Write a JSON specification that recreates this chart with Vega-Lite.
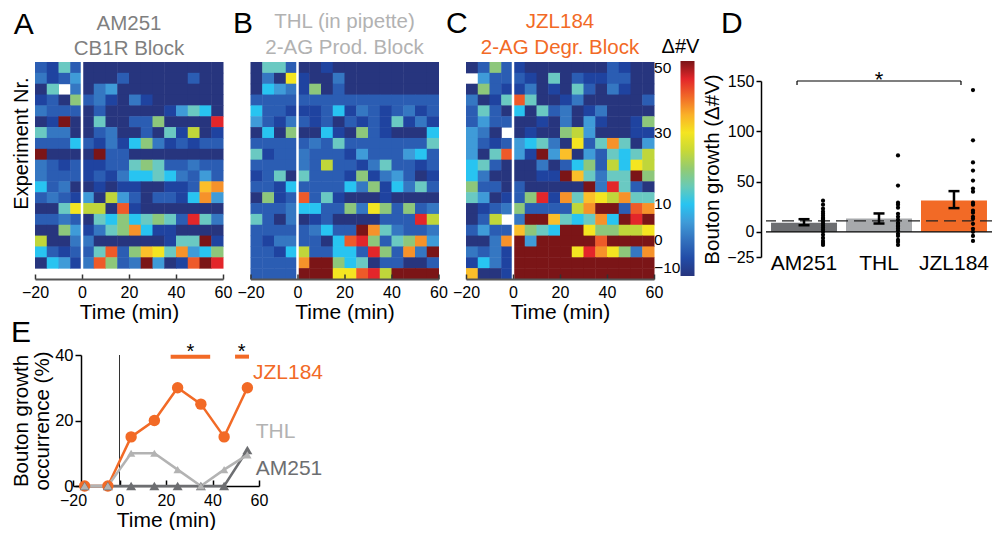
{
"$schema": "https://vega.github.io/schema/vega-lite/v6.json",
"background": "white",
"padding": {"left": 10, "top": 9, "right": 0, "bottom": 0},
"config": {
  "font": "Liberation Sans",
  "view": {"stroke": null},
  "axis": {"labelFont": "Liberation Sans", "titleFont": "Liberation Sans", "labelColor": "black", "titleColor": "black", "titleFontWeight": "normal", "domainColor": "black", "tickColor": "black", "grid": false},
  "legend": {"labelFont": "Liberation Sans", "titleFont": "Liberation Sans", "labelColor": "black", "titleColor": "black"},
  "title": {"font": "Liberation Sans", "fontWeight": "normal", "color": "black"},
  "text": {"font": "Liberation Sans"},
  "rect": {"binSpacing": 0}
},
"datasets": {
"hA": [
{"r":0,"t":-20,"v":-3},{"r":0,"t":-15,"v":-6},{"r":0,"t":-10,"v":14},{"r":0,"t":-5,"v":-3},{"r":0,"t":0,"v":-10},{"r":0,"t":5,"v":-10},{"r":0,"t":10,"v":-10},{"r":0,"t":15,"v":-10},{"r":0,"t":20,"v":-10},{"r":0,"t":25,"v":-10},{"r":0,"t":30,"v":-10},{"r":0,"t":35,"v":-10},{"r":0,"t":40,"v":-10},{"r":0,"t":45,"v":-10},{"r":0,"t":50,"v":-10},{"r":0,"t":55,"v":-10},
{"r":1,"t":-20,"v":1},{"r":1,"t":-15,"v":-6},{"r":1,"t":-10,"v":-3},{"r":1,"t":-5,"v":5},{"r":1,"t":0,"v":-10},{"r":1,"t":5,"v":-10},{"r":1,"t":10,"v":-10},{"r":1,"t":15,"v":-3},{"r":1,"t":20,"v":-10},{"r":1,"t":25,"v":-10},{"r":1,"t":30,"v":-10},{"r":1,"t":35,"v":-10},{"r":1,"t":40,"v":-10},{"r":1,"t":45,"v":-3},{"r":1,"t":50,"v":-10},{"r":1,"t":55,"v":-10},
{"r":2,"t":-20,"v":-10},{"r":2,"t":-15,"v":14},{"r":2,"t":-5,"v":1},{"r":2,"t":0,"v":-10},{"r":2,"t":5,"v":1},{"r":2,"t":10,"v":5},{"r":2,"t":15,"v":-10},{"r":2,"t":20,"v":-10},{"r":2,"t":25,"v":-10},{"r":2,"t":30,"v":-10},{"r":2,"t":35,"v":-10},{"r":2,"t":40,"v":-10},{"r":2,"t":45,"v":-10},{"r":2,"t":50,"v":-10},{"r":2,"t":55,"v":-10},
{"r":3,"t":-20,"v":-6},{"r":3,"t":-15,"v":-3},{"r":3,"t":-10,"v":-10},{"r":3,"t":-5,"v":19},{"r":3,"t":0,"v":-3},{"r":3,"t":5,"v":1},{"r":3,"t":10,"v":-6},{"r":3,"t":15,"v":-10},{"r":3,"t":20,"v":1},{"r":3,"t":25,"v":-6},{"r":3,"t":30,"v":-10},{"r":3,"t":35,"v":-10},{"r":3,"t":40,"v":-10},{"r":3,"t":45,"v":-10},{"r":3,"t":50,"v":-10},{"r":3,"t":55,"v":-10},
{"r":4,"t":-20,"v":1},{"r":4,"t":-15,"v":-3},{"r":4,"t":-10,"v":-3},{"r":4,"t":-5,"v":-3},{"r":4,"t":0,"v":-10},{"r":4,"t":5,"v":-3},{"r":4,"t":10,"v":-10},{"r":4,"t":15,"v":-10},{"r":4,"t":20,"v":-10},{"r":4,"t":25,"v":-10},{"r":4,"t":30,"v":-10},{"r":4,"t":35,"v":-6},{"r":4,"t":40,"v":5},{"r":4,"t":45,"v":14},{"r":4,"t":50,"v":10},{"r":4,"t":55,"v":-10},
{"r":5,"t":-20,"v":-10},{"r":5,"t":-15,"v":-6},{"r":5,"t":-10,"v":50},{"r":5,"t":-5,"v":-10},{"r":5,"t":0,"v":-10},{"r":5,"t":5,"v":14},{"r":5,"t":10,"v":-10},{"r":5,"t":15,"v":-10},{"r":5,"t":20,"v":-3},{"r":5,"t":25,"v":-3},{"r":5,"t":30,"v":19},{"r":5,"t":35,"v":-10},{"r":5,"t":40,"v":-10},{"r":5,"t":45,"v":-10},{"r":5,"t":50,"v":-10},{"r":5,"t":55,"v":45},
{"r":6,"t":-20,"v":14},{"r":6,"t":-15,"v":1},{"r":6,"t":-10,"v":1},{"r":6,"t":-5,"v":-10},{"r":6,"t":0,"v":-10},{"r":6,"t":5,"v":-3},{"r":6,"t":10,"v":1},{"r":6,"t":15,"v":-10},{"r":6,"t":20,"v":-10},{"r":6,"t":25,"v":-3},{"r":6,"t":30,"v":-10},{"r":6,"t":35,"v":14},{"r":6,"t":40,"v":-6},{"r":6,"t":45,"v":24},{"r":6,"t":50,"v":-10},{"r":6,"t":55,"v":-6},
{"r":7,"t":-20,"v":-3},{"r":7,"t":-15,"v":-3},{"r":7,"t":-10,"v":-3},{"r":7,"t":-5,"v":10},{"r":7,"t":0,"v":-3},{"r":7,"t":5,"v":-6},{"r":7,"t":10,"v":1},{"r":7,"t":15,"v":-6},{"r":7,"t":20,"v":10},{"r":7,"t":25,"v":19},{"r":7,"t":30,"v":1},{"r":7,"t":35,"v":-6},{"r":7,"t":40,"v":-3},{"r":7,"t":45,"v":-6},{"r":7,"t":50,"v":-3},{"r":7,"t":55,"v":-3},
{"r":8,"t":-20,"v":50},{"r":8,"t":-15,"v":-10},{"r":8,"t":-10,"v":-10},{"r":8,"t":-5,"v":-10},{"r":8,"t":0,"v":-10},{"r":8,"t":5,"v":50},{"r":8,"t":10,"v":-3},{"r":8,"t":15,"v":-3},{"r":8,"t":20,"v":-10},{"r":8,"t":25,"v":-10},{"r":8,"t":30,"v":-10},{"r":8,"t":35,"v":-10},{"r":8,"t":40,"v":-10},{"r":8,"t":45,"v":-10},{"r":8,"t":50,"v":-10},{"r":8,"t":55,"v":-10},
{"r":9,"t":-20,"v":1},{"r":9,"t":-15,"v":-3},{"r":9,"t":-10,"v":-6},{"r":9,"t":-5,"v":-3},{"r":9,"t":0,"v":-6},{"r":9,"t":5,"v":-6},{"r":9,"t":10,"v":-3},{"r":9,"t":15,"v":-3},{"r":9,"t":20,"v":14},{"r":9,"t":25,"v":19},{"r":9,"t":30,"v":14},{"r":9,"t":35,"v":-3},{"r":9,"t":40,"v":-3},{"r":9,"t":45,"v":1},{"r":9,"t":50,"v":-3},{"r":9,"t":55,"v":-3},
{"r":10,"t":-20,"v":1},{"r":10,"t":-15,"v":-3},{"r":10,"t":-10,"v":-3},{"r":10,"t":-5,"v":-3},{"r":10,"t":0,"v":-6},{"r":10,"t":5,"v":-3},{"r":10,"t":10,"v":-6},{"r":10,"t":15,"v":1},{"r":10,"t":20,"v":10},{"r":10,"t":25,"v":10},{"r":10,"t":30,"v":14},{"r":10,"t":35,"v":10},{"r":10,"t":40,"v":1},{"r":10,"t":45,"v":-3},{"r":10,"t":50,"v":5},{"r":10,"t":55,"v":-3},
{"r":11,"t":-20,"v":10},{"r":11,"t":-15,"v":-3},{"r":11,"t":-10,"v":1},{"r":11,"t":-5,"v":-10},{"r":11,"t":0,"v":-10},{"r":11,"t":5,"v":-6},{"r":11,"t":10,"v":-10},{"r":11,"t":15,"v":-6},{"r":11,"t":20,"v":-6},{"r":11,"t":25,"v":-10},{"r":11,"t":30,"v":-10},{"r":11,"t":35,"v":-6},{"r":11,"t":40,"v":-6},{"r":11,"t":45,"v":-3},{"r":11,"t":50,"v":34},{"r":11,"t":55,"v":37},
{"r":12,"t":-20,"v":-3},{"r":12,"t":-15,"v":1},{"r":12,"t":-10,"v":-3},{"r":12,"t":-5,"v":-6},{"r":12,"t":0,"v":5},{"r":12,"t":5,"v":-10},{"r":12,"t":10,"v":24},{"r":12,"t":15,"v":5},{"r":12,"t":20,"v":-3},{"r":12,"t":25,"v":-10},{"r":12,"t":30,"v":-3},{"r":12,"t":35,"v":-3},{"r":12,"t":40,"v":-6},{"r":12,"t":45,"v":10},{"r":12,"t":50,"v":37},{"r":12,"t":55,"v":5},
{"r":13,"t":-20,"v":-10},{"r":13,"t":-15,"v":-10},{"r":13,"t":-10,"v":14},{"r":13,"t":-5,"v":30},{"r":13,"t":0,"v":24},{"r":13,"t":5,"v":24},{"r":13,"t":10,"v":-10},{"r":13,"t":15,"v":41},{"r":13,"t":20,"v":-6},{"r":13,"t":25,"v":-10},{"r":13,"t":30,"v":-10},{"r":13,"t":35,"v":-10},{"r":13,"t":40,"v":-10},{"r":13,"t":45,"v":-10},{"r":13,"t":50,"v":-10},{"r":13,"t":55,"v":-10},
{"r":14,"t":-20,"v":-3},{"r":14,"t":-15,"v":-3},{"r":14,"t":-10,"v":1},{"r":14,"t":-5,"v":-3},{"r":14,"t":0,"v":-10},{"r":14,"t":5,"v":14},{"r":14,"t":10,"v":10},{"r":14,"t":15,"v":19},{"r":14,"t":20,"v":10},{"r":14,"t":25,"v":14},{"r":14,"t":30,"v":19},{"r":14,"t":35,"v":14},{"r":14,"t":40,"v":-3},{"r":14,"t":45,"v":45},{"r":14,"t":50,"v":14},{"r":14,"t":55,"v":1},
{"r":15,"t":-20,"v":-10},{"r":15,"t":-15,"v":-10},{"r":15,"t":-10,"v":19},{"r":15,"t":-5,"v":5},{"r":15,"t":0,"v":-6},{"r":15,"t":5,"v":1},{"r":15,"t":10,"v":14},{"r":15,"t":15,"v":19},{"r":15,"t":20,"v":37},{"r":15,"t":25,"v":10},{"r":15,"t":30,"v":-6},{"r":15,"t":35,"v":-6},{"r":15,"t":40,"v":-10},{"r":15,"t":45,"v":-10},{"r":15,"t":50,"v":-10},{"r":15,"t":55,"v":-10},
{"r":16,"t":-20,"v":24},{"r":16,"t":-15,"v":-10},{"r":16,"t":-10,"v":-10},{"r":16,"t":-5,"v":1},{"r":16,"t":0,"v":1},{"r":16,"t":5,"v":-10},{"r":16,"t":10,"v":-10},{"r":16,"t":15,"v":-10},{"r":16,"t":20,"v":-10},{"r":16,"t":25,"v":-10},{"r":16,"t":30,"v":-10},{"r":16,"t":35,"v":-6},{"r":16,"t":40,"v":14},{"r":16,"t":45,"v":14},{"r":16,"t":50,"v":50},{"r":16,"t":55,"v":-6},
{"r":17,"t":-20,"v":10},{"r":17,"t":-15,"v":-3},{"r":17,"t":-10,"v":-6},{"r":17,"t":-5,"v":-3},{"r":17,"t":0,"v":-3},{"r":17,"t":5,"v":14},{"r":17,"t":10,"v":41},{"r":17,"t":15,"v":-3},{"r":17,"t":20,"v":19},{"r":17,"t":25,"v":34},{"r":17,"t":30,"v":30},{"r":17,"t":35,"v":14},{"r":17,"t":40,"v":37},{"r":17,"t":45,"v":5},{"r":17,"t":50,"v":10},{"r":17,"t":55,"v":19},
{"r":18,"t":-20,"v":-10},{"r":18,"t":-15,"v":10},{"r":18,"t":-10,"v":5},{"r":18,"t":-5,"v":-6},{"r":18,"t":0,"v":1},{"r":18,"t":5,"v":41},{"r":18,"t":10,"v":19},{"r":18,"t":15,"v":-3},{"r":18,"t":20,"v":1},{"r":18,"t":25,"v":50},{"r":18,"t":30,"v":5},{"r":18,"t":35,"v":-10},{"r":18,"t":40,"v":-6},{"r":18,"t":45,"v":41},{"r":18,"t":50,"v":50},{"r":18,"t":55,"v":45}
],
"hB": [
{"r":0,"t":-20,"v":-10},{"r":0,"t":-15,"v":14},{"r":0,"t":-10,"v":14},{"r":0,"t":-5,"v":-3},{"r":0,"t":0,"v":-10},{"r":0,"t":5,"v":-10},{"r":0,"t":10,"v":-6},{"r":0,"t":15,"v":-10},{"r":0,"t":20,"v":-10},{"r":0,"t":25,"v":-10},{"r":0,"t":30,"v":-10},{"r":0,"t":35,"v":-10},{"r":0,"t":40,"v":-10},{"r":0,"t":45,"v":-10},{"r":0,"t":50,"v":-10},{"r":0,"t":55,"v":-10},
{"r":1,"t":-20,"v":-10},{"r":1,"t":-15,"v":1},{"r":1,"t":-10,"v":-10},{"r":1,"t":-5,"v":30},{"r":1,"t":0,"v":-6},{"r":1,"t":5,"v":-10},{"r":1,"t":10,"v":-10},{"r":1,"t":15,"v":1},{"r":1,"t":20,"v":-10},{"r":1,"t":25,"v":-10},{"r":1,"t":30,"v":-10},{"r":1,"t":35,"v":-10},{"r":1,"t":40,"v":-10},{"r":1,"t":45,"v":-10},{"r":1,"t":50,"v":-10},{"r":1,"t":55,"v":-10},
{"r":2,"t":-20,"v":-10},{"r":2,"t":-15,"v":10},{"r":2,"t":-10,"v":5},{"r":2,"t":-5,"v":1},{"r":2,"t":0,"v":-6},{"r":2,"t":5,"v":19},{"r":2,"t":10,"v":-10},{"r":2,"t":15,"v":-3},{"r":2,"t":20,"v":-10},{"r":2,"t":25,"v":-10},{"r":2,"t":30,"v":-10},{"r":2,"t":35,"v":-10},{"r":2,"t":40,"v":-10},{"r":2,"t":45,"v":-10},{"r":2,"t":50,"v":-10},{"r":2,"t":55,"v":-10},
{"r":3,"t":-20,"v":-3},{"r":3,"t":-15,"v":-3},{"r":3,"t":-10,"v":-3},{"r":3,"t":-5,"v":-3},{"r":3,"t":0,"v":-3},{"r":3,"t":5,"v":-3},{"r":3,"t":10,"v":-3},{"r":3,"t":15,"v":-3},{"r":3,"t":20,"v":-3},{"r":3,"t":25,"v":-3},{"r":3,"t":30,"v":-3},{"r":3,"t":35,"v":-3},{"r":3,"t":40,"v":-3},{"r":3,"t":45,"v":-3},{"r":3,"t":50,"v":-3},{"r":3,"t":55,"v":-3},
{"r":4,"t":-20,"v":10},{"r":4,"t":-15,"v":-3},{"r":4,"t":-10,"v":-3},{"r":4,"t":-5,"v":-6},{"r":4,"t":0,"v":-6},{"r":4,"t":5,"v":-6},{"r":4,"t":10,"v":-3},{"r":4,"t":15,"v":10},{"r":4,"t":20,"v":-6},{"r":4,"t":25,"v":1},{"r":4,"t":30,"v":-3},{"r":4,"t":35,"v":-6},{"r":4,"t":40,"v":-3},{"r":4,"t":45,"v":1},{"r":4,"t":50,"v":-6},{"r":4,"t":55,"v":-3},
{"r":5,"t":-20,"v":5},{"r":5,"t":-15,"v":-3},{"r":5,"t":-10,"v":-6},{"r":5,"t":-5,"v":1},{"r":5,"t":0,"v":-3},{"r":5,"t":5,"v":-6},{"r":5,"t":10,"v":-3},{"r":5,"t":15,"v":-10},{"r":5,"t":20,"v":-3},{"r":5,"t":25,"v":-6},{"r":5,"t":30,"v":-3},{"r":5,"t":35,"v":-6},{"r":5,"t":40,"v":14},{"r":5,"t":45,"v":-6},{"r":5,"t":50,"v":1},{"r":5,"t":55,"v":-6},
{"r":6,"t":-20,"v":-10},{"r":6,"t":-15,"v":10},{"r":6,"t":-10,"v":-10},{"r":6,"t":-5,"v":19},{"r":6,"t":0,"v":-10},{"r":6,"t":5,"v":-10},{"r":6,"t":10,"v":10},{"r":6,"t":15,"v":-6},{"r":6,"t":20,"v":-10},{"r":6,"t":25,"v":19},{"r":6,"t":30,"v":-3},{"r":6,"t":35,"v":-6},{"r":6,"t":40,"v":-10},{"r":6,"t":45,"v":-10},{"r":6,"t":50,"v":-10},{"r":6,"t":55,"v":10},
{"r":7,"t":-20,"v":-3},{"r":7,"t":-15,"v":-3},{"r":7,"t":-10,"v":-3},{"r":7,"t":-5,"v":-3},{"r":7,"t":0,"v":-3},{"r":7,"t":5,"v":1},{"r":7,"t":10,"v":-3},{"r":7,"t":15,"v":14},{"r":7,"t":20,"v":-3},{"r":7,"t":25,"v":-3},{"r":7,"t":30,"v":-3},{"r":7,"t":35,"v":-3},{"r":7,"t":40,"v":-3},{"r":7,"t":45,"v":-3},{"r":7,"t":50,"v":-3},{"r":7,"t":55,"v":14},
{"r":8,"t":-20,"v":14},{"r":8,"t":-15,"v":-6},{"r":8,"t":-10,"v":-3},{"r":8,"t":-5,"v":-3},{"r":8,"t":0,"v":1},{"r":8,"t":5,"v":-3},{"r":8,"t":10,"v":-3},{"r":8,"t":15,"v":-3},{"r":8,"t":20,"v":-6},{"r":8,"t":25,"v":5},{"r":8,"t":30,"v":-3},{"r":8,"t":35,"v":-3},{"r":8,"t":40,"v":-3},{"r":8,"t":45,"v":5},{"r":8,"t":50,"v":10},{"r":8,"t":55,"v":-3},
{"r":9,"t":-20,"v":-3},{"r":9,"t":-15,"v":-3},{"r":9,"t":-10,"v":-3},{"r":9,"t":-5,"v":-3},{"r":9,"t":0,"v":1},{"r":9,"t":5,"v":-3},{"r":9,"t":10,"v":24},{"r":9,"t":15,"v":-3},{"r":9,"t":20,"v":-3},{"r":9,"t":25,"v":-6},{"r":9,"t":30,"v":1},{"r":9,"t":35,"v":14},{"r":9,"t":40,"v":-3},{"r":9,"t":45,"v":-3},{"r":9,"t":50,"v":-6},{"r":9,"t":55,"v":-3},
{"r":10,"t":-20,"v":-6},{"r":10,"t":-15,"v":-3},{"r":10,"t":-10,"v":14},{"r":10,"t":-5,"v":-10},{"r":10,"t":0,"v":14},{"r":10,"t":5,"v":-3},{"r":10,"t":10,"v":-3},{"r":10,"t":15,"v":-3},{"r":10,"t":20,"v":-6},{"r":10,"t":25,"v":19},{"r":10,"t":30,"v":-6},{"r":10,"t":35,"v":1},{"r":10,"t":40,"v":5},{"r":10,"t":45,"v":-3},{"r":10,"t":50,"v":-10},{"r":10,"t":55,"v":-6},
{"r":11,"t":-20,"v":-3},{"r":11,"t":-15,"v":-3},{"r":11,"t":-10,"v":-6},{"r":11,"t":-5,"v":10},{"r":11,"t":0,"v":-3},{"r":11,"t":5,"v":-3},{"r":11,"t":10,"v":-3},{"r":11,"t":15,"v":-3},{"r":11,"t":20,"v":10},{"r":11,"t":25,"v":1},{"r":11,"t":30,"v":19},{"r":11,"t":35,"v":-6},{"r":11,"t":40,"v":10},{"r":11,"t":45,"v":1},{"r":11,"t":50,"v":14},{"r":11,"t":55,"v":-3},
{"r":12,"t":-20,"v":-10},{"r":12,"t":-15,"v":19},{"r":12,"t":-10,"v":-6},{"r":12,"t":-5,"v":-3},{"r":12,"t":0,"v":41},{"r":12,"t":5,"v":-3},{"r":12,"t":10,"v":14},{"r":12,"t":15,"v":-6},{"r":12,"t":20,"v":-10},{"r":12,"t":25,"v":-10},{"r":12,"t":30,"v":-10},{"r":12,"t":35,"v":-6},{"r":12,"t":40,"v":-10},{"r":12,"t":45,"v":-10},{"r":12,"t":50,"v":-10},{"r":12,"t":55,"v":-10},
{"r":13,"t":-20,"v":-3},{"r":13,"t":-15,"v":-3},{"r":13,"t":-10,"v":-3},{"r":13,"t":-5,"v":1},{"r":13,"t":0,"v":10},{"r":13,"t":5,"v":10},{"r":13,"t":10,"v":-3},{"r":13,"t":15,"v":-3},{"r":13,"t":20,"v":19},{"r":13,"t":25,"v":1},{"r":13,"t":30,"v":30},{"r":13,"t":35,"v":19},{"r":13,"t":40,"v":-3},{"r":13,"t":45,"v":19},{"r":13,"t":50,"v":-3},{"r":13,"t":55,"v":1},
{"r":14,"t":-20,"v":14},{"r":14,"t":-15,"v":-3},{"r":14,"t":-10,"v":-10},{"r":14,"t":-5,"v":1},{"r":14,"t":0,"v":-10},{"r":14,"t":5,"v":-6},{"r":14,"t":10,"v":-3},{"r":14,"t":15,"v":-10},{"r":14,"t":20,"v":-10},{"r":14,"t":25,"v":-10},{"r":14,"t":30,"v":-10},{"r":14,"t":35,"v":-3},{"r":14,"t":40,"v":-3},{"r":14,"t":45,"v":-3},{"r":14,"t":50,"v":45},{"r":14,"t":55,"v":24},
{"r":15,"t":-20,"v":-3},{"r":15,"t":-15,"v":-3},{"r":15,"t":-10,"v":-3},{"r":15,"t":-5,"v":-3},{"r":15,"t":0,"v":-3},{"r":15,"t":5,"v":1},{"r":15,"t":10,"v":10},{"r":15,"t":15,"v":-3},{"r":15,"t":20,"v":-3},{"r":15,"t":25,"v":50},{"r":15,"t":30,"v":37},{"r":15,"t":35,"v":14},{"r":15,"t":40,"v":1},{"r":15,"t":45,"v":-3},{"r":15,"t":50,"v":-3},{"r":15,"t":55,"v":1},
{"r":16,"t":-20,"v":-3},{"r":16,"t":-15,"v":-6},{"r":16,"t":-10,"v":1},{"r":16,"t":-5,"v":1},{"r":16,"t":0,"v":-3},{"r":16,"t":5,"v":-3},{"r":16,"t":10,"v":-10},{"r":16,"t":15,"v":10},{"r":16,"t":20,"v":41},{"r":16,"t":25,"v":45},{"r":16,"t":30,"v":19},{"r":16,"t":35,"v":-3},{"r":16,"t":40,"v":14},{"r":16,"t":45,"v":19},{"r":16,"t":50,"v":37},{"r":16,"t":55,"v":5},
{"r":17,"t":-20,"v":-3},{"r":17,"t":-15,"v":-3},{"r":17,"t":-10,"v":-6},{"r":17,"t":-5,"v":10},{"r":17,"t":0,"v":24},{"r":17,"t":5,"v":-3},{"r":17,"t":10,"v":-3},{"r":17,"t":15,"v":10},{"r":17,"t":20,"v":10},{"r":17,"t":25,"v":-3},{"r":17,"t":30,"v":45},{"r":17,"t":35,"v":19},{"r":17,"t":40,"v":-3},{"r":17,"t":45,"v":37},{"r":17,"t":50,"v":1},{"r":17,"t":55,"v":50},
{"r":18,"t":-20,"v":-3},{"r":18,"t":-15,"v":-3},{"r":18,"t":-10,"v":-3},{"r":18,"t":-5,"v":-3},{"r":18,"t":0,"v":37},{"r":18,"t":5,"v":50},{"r":18,"t":10,"v":50},{"r":18,"t":15,"v":19},{"r":18,"t":20,"v":10},{"r":18,"t":25,"v":14},{"r":18,"t":30,"v":-10},{"r":18,"t":35,"v":-3},{"r":18,"t":40,"v":-3},{"r":18,"t":45,"v":-10},{"r":18,"t":50,"v":-10},{"r":18,"t":55,"v":-3},
{"r":19,"t":-20,"v":-3},{"r":19,"t":-15,"v":-3},{"r":19,"t":-10,"v":-3},{"r":19,"t":-5,"v":-3},{"r":19,"t":0,"v":50},{"r":19,"t":5,"v":50},{"r":19,"t":10,"v":50},{"r":19,"t":15,"v":30},{"r":19,"t":20,"v":30},{"r":19,"t":25,"v":41},{"r":19,"t":30,"v":45},{"r":19,"t":35,"v":24},{"r":19,"t":40,"v":50},{"r":19,"t":45,"v":50},{"r":19,"t":50,"v":50},{"r":19,"t":55,"v":50}
],
"hC": [
{"r":0,"t":-20,"v":-10},{"r":0,"t":-15,"v":-3},{"r":0,"t":-10,"v":19},{"r":0,"t":-5,"v":-3},{"r":0,"t":0,"v":-6},{"r":0,"t":5,"v":-10},{"r":0,"t":10,"v":-10},{"r":0,"t":15,"v":-10},{"r":0,"t":20,"v":-10},{"r":0,"t":25,"v":-10},{"r":0,"t":30,"v":-10},{"r":0,"t":35,"v":-10},{"r":0,"t":40,"v":-3},{"r":0,"t":45,"v":-6},{"r":0,"t":50,"v":-10},{"r":0,"t":55,"v":-10},
{"r":1,"t":-15,"v":5},{"r":1,"t":-10,"v":-3},{"r":1,"t":-5,"v":-3},{"r":1,"t":0,"v":-3},{"r":1,"t":5,"v":-6},{"r":1,"t":10,"v":-10},{"r":1,"t":15,"v":14},{"r":1,"t":20,"v":-10},{"r":1,"t":25,"v":-3},{"r":1,"t":30,"v":-6},{"r":1,"t":35,"v":-6},{"r":1,"t":40,"v":-3},{"r":1,"t":45,"v":-3},{"r":1,"t":50,"v":-10},{"r":1,"t":55,"v":-10},
{"r":2,"t":-20,"v":-10},{"r":2,"t":-15,"v":19},{"r":2,"t":-10,"v":-3},{"r":2,"t":-5,"v":-6},{"r":2,"t":0,"v":-6},{"r":2,"t":5,"v":1},{"r":2,"t":10,"v":-10},{"r":2,"t":15,"v":-6},{"r":2,"t":20,"v":-10},{"r":2,"t":25,"v":14},{"r":2,"t":30,"v":-3},{"r":2,"t":35,"v":-10},{"r":2,"t":40,"v":1},{"r":2,"t":45,"v":-6},{"r":2,"t":50,"v":-10},{"r":2,"t":55,"v":-10},
{"r":3,"t":-20,"v":1},{"r":3,"t":-15,"v":-10},{"r":3,"t":-10,"v":-6},{"r":3,"t":-5,"v":14},{"r":3,"t":0,"v":41},{"r":3,"t":5,"v":14},{"r":3,"t":10,"v":-10},{"r":3,"t":15,"v":-10},{"r":3,"t":20,"v":-6},{"r":3,"t":25,"v":1},{"r":3,"t":30,"v":-10},{"r":3,"t":35,"v":-10},{"r":3,"t":40,"v":-10},{"r":3,"t":45,"v":-10},{"r":3,"t":50,"v":-10},{"r":3,"t":55,"v":-3},
{"r":4,"t":-20,"v":-3},{"r":4,"t":-15,"v":14},{"r":4,"t":-10,"v":-3},{"r":4,"t":-5,"v":-10},{"r":4,"t":0,"v":10},{"r":4,"t":5,"v":-10},{"r":4,"t":10,"v":14},{"r":4,"t":15,"v":-3},{"r":4,"t":20,"v":1},{"r":4,"t":25,"v":-10},{"r":4,"t":30,"v":-6},{"r":4,"t":35,"v":1},{"r":4,"t":40,"v":-10},{"r":4,"t":45,"v":-10},{"r":4,"t":50,"v":-10},{"r":4,"t":55,"v":-10},
{"r":5,"t":-20,"v":-3},{"r":5,"t":-15,"v":5},{"r":5,"t":-10,"v":-3},{"r":5,"t":-5,"v":-3},{"r":5,"t":0,"v":-10},{"r":5,"t":5,"v":-10},{"r":5,"t":10,"v":-6},{"r":5,"t":15,"v":-10},{"r":5,"t":20,"v":1},{"r":5,"t":25,"v":-10},{"r":5,"t":30,"v":5},{"r":5,"t":35,"v":-6},{"r":5,"t":40,"v":-10},{"r":5,"t":45,"v":-10},{"r":5,"t":50,"v":-6},{"r":5,"t":55,"v":19},
{"r":6,"t":-20,"v":5},{"r":6,"t":-15,"v":1},{"r":6,"t":-10,"v":-10},{"r":6,"t":0,"v":-10},{"r":6,"t":5,"v":-6},{"r":6,"t":10,"v":-10},{"r":6,"t":15,"v":-10},{"r":6,"t":20,"v":19},{"r":6,"t":25,"v":24},{"r":6,"t":30,"v":5},{"r":6,"t":35,"v":-10},{"r":6,"t":40,"v":-10},{"r":6,"t":45,"v":-10},{"r":6,"t":50,"v":-6},{"r":6,"t":55,"v":-6},
{"r":7,"t":-20,"v":5},{"r":7,"t":-15,"v":-3},{"r":7,"t":-10,"v":-6},{"r":7,"t":-5,"v":-3},{"r":7,"t":0,"v":5},{"r":7,"t":5,"v":10},{"r":7,"t":10,"v":14},{"r":7,"t":15,"v":1},{"r":7,"t":20,"v":-10},{"r":7,"t":25,"v":30},{"r":7,"t":30,"v":-3},{"r":7,"t":35,"v":14},{"r":7,"t":40,"v":37},{"r":7,"t":45,"v":14},{"r":7,"t":50,"v":-10},{"r":7,"t":55,"v":5},
{"r":8,"t":-20,"v":5},{"r":8,"t":-15,"v":-10},{"r":8,"t":-10,"v":14},{"r":8,"t":-5,"v":41},{"r":8,"t":0,"v":5},{"r":8,"t":5,"v":-6},{"r":8,"t":10,"v":50},{"r":8,"t":15,"v":5},{"r":8,"t":20,"v":34},{"r":8,"t":25,"v":-10},{"r":8,"t":30,"v":5},{"r":8,"t":35,"v":-3},{"r":8,"t":40,"v":14},{"r":8,"t":45,"v":10},{"r":8,"t":50,"v":14},{"r":8,"t":55,"v":24},
{"r":9,"t":-20,"v":10},{"r":9,"t":-15,"v":14},{"r":9,"t":-10,"v":-3},{"r":9,"t":-5,"v":-10},{"r":9,"t":0,"v":-10},{"r":9,"t":5,"v":-10},{"r":9,"t":10,"v":1},{"r":9,"t":15,"v":-10},{"r":9,"t":20,"v":-3},{"r":9,"t":25,"v":10},{"r":9,"t":30,"v":19},{"r":9,"t":35,"v":-3},{"r":9,"t":40,"v":24},{"r":9,"t":45,"v":10},{"r":9,"t":50,"v":30},{"r":9,"t":55,"v":24},
{"r":10,"t":-20,"v":10},{"r":10,"t":-15,"v":1},{"r":10,"t":-10,"v":-10},{"r":10,"t":-5,"v":-10},{"r":10,"t":0,"v":-10},{"r":10,"t":5,"v":-10},{"r":10,"t":10,"v":-6},{"r":10,"t":15,"v":-6},{"r":10,"t":20,"v":50},{"r":10,"t":25,"v":34},{"r":10,"t":30,"v":14},{"r":10,"t":35,"v":1},{"r":10,"t":40,"v":14},{"r":10,"t":45,"v":14},{"r":10,"t":50,"v":50},{"r":10,"t":55,"v":19},
{"r":11,"t":-20,"v":19},{"r":11,"t":-15,"v":-3},{"r":11,"t":-10,"v":-3},{"r":11,"t":-5,"v":-10},{"r":11,"t":0,"v":-3},{"r":11,"t":5,"v":-10},{"r":11,"t":10,"v":-10},{"r":11,"t":15,"v":-10},{"r":11,"t":20,"v":-10},{"r":11,"t":25,"v":-10},{"r":11,"t":30,"v":50},{"r":11,"t":35,"v":1},{"r":11,"t":40,"v":45},{"r":11,"t":45,"v":14},{"r":11,"t":50,"v":-3},{"r":11,"t":55,"v":-10},
{"r":12,"t":-20,"v":14},{"r":12,"t":-15,"v":5},{"r":12,"t":-10,"v":-10},{"r":12,"t":-5,"v":-6},{"r":12,"t":0,"v":-3},{"r":12,"t":5,"v":19},{"r":12,"t":10,"v":45},{"r":12,"t":15,"v":-6},{"r":12,"t":20,"v":37},{"r":12,"t":25,"v":14},{"r":12,"t":30,"v":34},{"r":12,"t":35,"v":30},{"r":12,"t":40,"v":24},{"r":12,"t":45,"v":37},{"r":12,"t":50,"v":14},{"r":12,"t":55,"v":14},
{"r":13,"t":-20,"v":-10},{"r":13,"t":-15,"v":-6},{"r":13,"t":-10,"v":-3},{"r":13,"t":-5,"v":1},{"r":13,"t":0,"v":19},{"r":13,"t":5,"v":-3},{"r":13,"t":10,"v":-3},{"r":13,"t":15,"v":-3},{"r":13,"t":20,"v":-3},{"r":13,"t":25,"v":24},{"r":13,"t":30,"v":37},{"r":13,"t":35,"v":50},{"r":13,"t":40,"v":50},{"r":13,"t":45,"v":-3},{"r":13,"t":50,"v":41},{"r":13,"t":55,"v":37},
{"r":14,"t":-20,"v":-10},{"r":14,"t":-15,"v":-3},{"r":14,"t":-10,"v":24},{"r":14,"t":0,"v":1},{"r":14,"t":5,"v":50},{"r":14,"t":10,"v":50},{"r":14,"t":15,"v":34},{"r":14,"t":20,"v":14},{"r":14,"t":25,"v":10},{"r":14,"t":30,"v":14},{"r":14,"t":35,"v":37},{"r":14,"t":40,"v":10},{"r":14,"t":45,"v":50},{"r":14,"t":50,"v":45},{"r":14,"t":55,"v":50},
{"r":15,"t":-20,"v":-3},{"r":15,"t":-15,"v":5},{"r":15,"t":-10,"v":-3},{"r":15,"t":-5,"v":-3},{"r":15,"t":0,"v":34},{"r":15,"t":5,"v":19},{"r":15,"t":10,"v":14},{"r":15,"t":15,"v":10},{"r":15,"t":20,"v":50},{"r":15,"t":25,"v":50},{"r":15,"t":30,"v":30},{"r":15,"t":35,"v":19},{"r":15,"t":40,"v":19},{"r":15,"t":45,"v":24},{"r":15,"t":50,"v":24},{"r":15,"t":55,"v":30},
{"r":16,"t":-20,"v":-10},{"r":16,"t":-15,"v":-10},{"r":16,"t":-10,"v":1},{"r":16,"t":-5,"v":37},{"r":16,"t":0,"v":50},{"r":16,"t":5,"v":5},{"r":16,"t":10,"v":50},{"r":16,"t":15,"v":50},{"r":16,"t":20,"v":50},{"r":16,"t":25,"v":50},{"r":16,"t":30,"v":50},{"r":16,"t":35,"v":41},{"r":16,"t":40,"v":50},{"r":16,"t":45,"v":50},{"r":16,"t":50,"v":50},{"r":16,"t":55,"v":50},
{"r":17,"t":-20,"v":1},{"r":17,"t":-15,"v":-3},{"r":17,"t":-10,"v":1},{"r":17,"t":-5,"v":-6},{"r":17,"t":0,"v":50},{"r":17,"t":5,"v":50},{"r":17,"t":10,"v":50},{"r":17,"t":15,"v":50},{"r":17,"t":20,"v":50},{"r":17,"t":25,"v":30},{"r":17,"t":30,"v":45},{"r":17,"t":35,"v":37},{"r":17,"t":40,"v":30},{"r":17,"t":45,"v":19},{"r":17,"t":50,"v":1},{"r":17,"t":55,"v":37},
{"r":18,"t":-20,"v":-6},{"r":18,"t":-15,"v":10},{"r":18,"t":-10,"v":1},{"r":18,"t":-5,"v":-6},{"r":18,"t":0,"v":50},{"r":18,"t":5,"v":50},{"r":18,"t":10,"v":50},{"r":18,"t":15,"v":50},{"r":18,"t":20,"v":50},{"r":18,"t":25,"v":50},{"r":18,"t":30,"v":50},{"r":18,"t":35,"v":50},{"r":18,"t":40,"v":50},{"r":18,"t":45,"v":50},{"r":18,"t":50,"v":50},{"r":18,"t":55,"v":50},
{"r":19,"t":-20,"v":34},{"r":19,"t":-15,"v":-10},{"r":19,"t":-10,"v":-10},{"r":19,"t":-5,"v":-6},{"r":19,"t":0,"v":50},{"r":19,"t":5,"v":50},{"r":19,"t":10,"v":50},{"r":19,"t":15,"v":50},{"r":19,"t":20,"v":50},{"r":19,"t":25,"v":50},{"r":19,"t":30,"v":50},{"r":19,"t":35,"v":50},{"r":19,"t":40,"v":50},{"r":19,"t":45,"v":50},{"r":19,"t":50,"v":50},{"r":19,"t":55,"v":50}
],
"bars": [
{"g":"AM251","m":9,"lo":6.6,"hi":12.6},
{"g":"THL","m":13.3,"lo":8.3,"hi":18.3},
{"g":"JZL184","m":31.2,"lo":23.6,"hi":40.5}
],
"dots": [
{"g":"AM251","v":31},{"g":"AM251","v":27},{"g":"AM251","v":23},{"g":"AM251","v":20},{"g":"AM251","v":18},{"g":"AM251","v":16},{"g":"AM251","v":14},{"g":"AM251","v":13},{"g":"AM251","v":12},{"g":"AM251","v":10},{"g":"AM251","v":8},{"g":"AM251","v":6},{"g":"AM251","v":4},{"g":"AM251","v":2},{"g":"AM251","v":0},{"g":"AM251","v":-3},{"g":"AM251","v":-6},{"g":"AM251","v":-9},{"g":"AM251","v":-11},{"g":"AM251","v":-13},
{"g":"THL","v":76},{"g":"THL","v":46},{"g":"THL","v":29},{"g":"THL","v":27},{"g":"THL","v":24},{"g":"THL","v":18},{"g":"THL","v":15},{"g":"THL","v":12},{"g":"THL","v":9},{"g":"THL","v":8},{"g":"THL","v":6},{"g":"THL","v":5},{"g":"THL","v":3},{"g":"THL","v":1},{"g":"THL","v":-2},{"g":"THL","v":-4},{"g":"THL","v":-8},{"g":"THL","v":-10},{"g":"THL","v":-13},
{"g":"JZL184","v":141},{"g":"JZL184","v":91},{"g":"JZL184","v":69},{"g":"JZL184","v":61},{"g":"JZL184","v":51},{"g":"JZL184","v":43},{"g":"JZL184","v":40},{"g":"JZL184","v":29},{"g":"JZL184","v":27},{"g":"JZL184","v":21},{"g":"JZL184","v":19},{"g":"JZL184","v":15},{"g":"JZL184","v":13},{"g":"JZL184","v":8},{"g":"JZL184","v":3},{"g":"JZL184","v":0},{"g":"JZL184","v":-4},{"g":"JZL184","v":-9}
],
"occ": [
{"g":"JZL184","t":-15,"v":0},{"g":"JZL184","t":-5,"v":0},{"g":"JZL184","t":5,"v":15},{"g":"JZL184","t":15,"v":20},{"g":"JZL184","t":25,"v":30},{"g":"JZL184","t":35,"v":25},{"g":"JZL184","t":45,"v":15},{"g":"JZL184","t":55,"v":30},
{"g":"AM251","t":-15,"v":0},{"g":"AM251","t":-5,"v":0},{"g":"AM251","t":5,"v":0},{"g":"AM251","t":15,"v":0},{"g":"AM251","t":25,"v":0},{"g":"AM251","t":35,"v":0},{"g":"AM251","t":45,"v":0},{"g":"AM251","t":55,"v":11},
{"g":"THL","t":-15,"v":0},{"g":"THL","t":-5,"v":0},{"g":"THL","t":5,"v":10},{"g":"THL","t":15,"v":10},{"g":"THL","t":25,"v":5},{"g":"THL","t":35,"v":0},{"g":"THL","t":45,"v":5},{"g":"THL","t":55,"v":9.5}
]
},
"columns": 5,
"spacing": {"row": 76, "column": 27.5},
"bounds": "flush",
"resolve": {"scale": {"color": "independent", "shape": "independent", "size": "independent"}},
"concat": [
{
"width": 188, "height": 217,
"layer": [
{"data": {"name": "hA"}, "mark": {"type": "rect", "binSpacing": 0, "x2Offset": -0.5, "y2Offset": 0.5},
 "encoding": {
  "x": {"field": "t", "type": "quantitative", "bin": {"step": 5, "extent": [-20, 60]}, "scale": {"domain": [-20, 60]},
        "axis": {"values": [-20, 0, 20, 40, 60], "title": "Time (min)", "titleFontSize": 21, "titlePadding": 1, "labelFontSize": 16, "labelPadding": 10, "tickSize": -5, "tickWidth": 1.5, "tickColor": "#333", "domainColor": "#555", "domainWidth": 2, "labelFlush": false, "labelOverlap": false, "format": "d"}},
  "y": {"field": "r", "type": "quantitative", "bin": {"step": 1, "extent": [0, 19]}, "scale": {"domain": [0, 19], "reverse": true},
        "axis": {"title": "Experiment Nr.", "titleFontSize": 20, "titlePadding": 4, "labels": false, "ticks": false, "domain": false, "titleY": 81}},
  "color": {"field": "v", "type": "quantitative", "legend": null,
   "scale": {"domain": [-10,-6,-3,1,5,10,14,19,24,30,34,37,41,45,50], "range": ["#27357e","#1f43a0","#2b5db3","#3577c2","#3f9bd8","#28c4f1","#6ac9c2","#8dc77b","#c0d63a","#f4e521","#fbbf2a","#f6922a","#ee5a29","#e3262a","#7b1517"], "clamp": true}}
 }},
{"data": {"values": [{}]}, "mark": {"type": "rule", "color": "white", "strokeWidth": 2.5}, "encoding": {"x": {"datum": 0}}},
{"data": {"values": [{}]}, "mark": {"type": "text", "text": "A", "fontSize": 30, "align": "left", "baseline": "alphabetic"}, "encoding": {"x": {"datum": -29}, "y": {"datum": -2.55}}},
{"data": {"values": [{}]}, "mark": {"type": "text", "text": ["AM251", "CB1R Block"], "fontSize": 20.5, "lineHeight": 25.5, "align": "center", "baseline": "alphabetic", "color": "#7f7f7f"}, "encoding": {"x": {"datum": 20}, "y": {"datum": -2.98}}}
]
},
{
"width": 188, "height": 217,
"layer": [
{"data": {"name": "hB"}, "mark": {"type": "rect", "binSpacing": 0, "x2Offset": -0.5, "y2Offset": 0.5},
 "encoding": {
  "x": {"field": "t", "type": "quantitative", "bin": {"step": 5, "extent": [-20, 60]}, "scale": {"domain": [-20, 60]},
        "axis": {"values": [-20, 0, 20, 40, 60], "title": "Time (min)", "titleFontSize": 21, "titlePadding": 1, "labelFontSize": 16, "labelPadding": 10, "tickSize": -5, "tickWidth": 1.5, "tickColor": "#333", "domainColor": "#555", "domainWidth": 2, "labelFlush": false, "labelOverlap": false, "format": "d"}},
  "y": {"field": "r", "type": "quantitative", "bin": {"step": 1, "extent": [0, 20]}, "scale": {"domain": [0, 20], "reverse": true}, "axis": null},
  "color": {"field": "v", "type": "quantitative", "legend": null,
   "scale": {"domain": [-10,-6,-3,1,5,10,14,19,24,30,34,37,41,45,50], "range": ["#27357e","#1f43a0","#2b5db3","#3577c2","#3f9bd8","#28c4f1","#6ac9c2","#8dc77b","#c0d63a","#f4e521","#fbbf2a","#f6922a","#ee5a29","#e3262a","#7b1517"], "clamp": true}}
 }},
{"data": {"values": [{}]}, "mark": {"type": "rule", "color": "white", "strokeWidth": 2.5}, "encoding": {"x": {"datum": 0}}},
{"data": {"values": [{}]}, "mark": {"type": "text", "text": "B", "fontSize": 30, "align": "left", "baseline": "alphabetic"}, "encoding": {"x": {"datum": -27.5}, "y": {"datum": -2.67}}},
{"data": {"values": [{}]}, "mark": {"type": "text", "text": ["THL (in pipette)", "2-AG Prod. Block"], "fontSize": 20.5, "lineHeight": 25.5, "align": "center", "baseline": "alphabetic", "color": "#b2b2b2"}, "encoding": {"x": {"datum": 20}, "y": {"datum": -3.13}}}
]
},
{
"width": 188, "height": 217,
"layer": [
{"data": {"name": "hC"}, "mark": {"type": "rect", "binSpacing": 0, "x2Offset": -0.5, "y2Offset": 0.5},
 "encoding": {
  "x": {"field": "t", "type": "quantitative", "bin": {"step": 5, "extent": [-20, 60]}, "scale": {"domain": [-20, 60]},
        "axis": {"values": [-20, 0, 20, 40, 60], "title": "Time (min)", "titleFontSize": 21, "titlePadding": 1, "labelFontSize": 16, "labelPadding": 10, "tickSize": -5, "tickWidth": 1.5, "tickColor": "#333", "domainColor": "#555", "domainWidth": 2, "labelFlush": false, "labelOverlap": false, "format": "d"}},
  "y": {"field": "r", "type": "quantitative", "bin": {"step": 1, "extent": [0, 20]}, "scale": {"domain": [0, 20], "reverse": true}, "axis": null},
  "color": {"field": "v", "type": "quantitative",
   "legend": {"type": "gradient", "orient": "none", "legendX": 195.5, "legendY": -25, "direction": "vertical", "gradientLength": 215, "gradientThickness": 14, "values": [-10, 0, 10, 30, 50], "labelOffset": -40.4, "labelBaseline": "middle", "labelFontSize": 15.5, "labelExpr": "datum.value === 0 ? '\u00a0\u00a0\u00a0' + datum.label : (datum.value > 0 ? '\u00a0' + datum.label : datum.label)", "title": "Δ#V", "titleFontSize": 20, "titleFontWeight": "normal", "titleAlign": "center", "titlePadding": 4},
   "scale": {"domain": [-10,-6,-3,1,5,10,14,19,24,30,34,37,41,45,50], "range": ["#27357e","#1f43a0","#2b5db3","#3577c2","#3f9bd8","#28c4f1","#6ac9c2","#8dc77b","#c0d63a","#f4e521","#fbbf2a","#f6922a","#ee5a29","#e3262a","#7b1517"], "clamp": true}}
 }},
{"data": {"values": [{}]}, "mark": {"type": "rule", "color": "white", "strokeWidth": 2.5}, "encoding": {"x": {"datum": 0}}},
{"data": {"values": [{}]}, "mark": {"type": "text", "text": "C", "fontSize": 30, "align": "left", "baseline": "alphabetic"}, "encoding": {"x": {"datum": -28.5}, "y": {"datum": -2.67}}},
{"data": {"values": [{}]}, "mark": {"type": "text", "text": ["JZL184", "2-AG Degr. Block"], "fontSize": 20.5, "lineHeight": 25.5, "align": "center", "baseline": "alphabetic", "color": "#f26a26"}, "encoding": {"x": {"datum": 20}, "y": {"datum": -3.13}}}
]
},
{
"width": 57, "height": 10,
"data": {"values": []},
"mark": {"type": "point", "opacity": 0},
"encoding": {}
},
{
"width": 226, "height": 195,
"layer": [
{"data": {"name": "bars"}, "mark": {"type": "bar"},
 "encoding": {
  "x": {"field": "g", "type": "nominal", "sort": null, "scale": {"domain": ["AM251", "THL", "JZL184"], "paddingInner": 0.12, "paddingOuter": 0.067},
        "axis": {"title": null, "labelFontSize": 21, "ticks": false, "domain": false, "labelPadding": -5, "labelAngle": 0}},
  "y": {"field": "m", "type": "quantitative", "scale": {"domain": [-25, 150], "range": [195, 19], "nice": false, "zero": false},
        "axis": {"values": [-25, 0, 50, 100, 150], "title": "Bouton growth (Δ#V)", "titleFontSize": 20.5, "titlePadding": 4, "labelFontSize": 16, "tickSize": 5, "tickWidth": 1.5, "domainWidth": 1.5, "labelPadding": 2, "offset": 5, "labelFlush": false}},
  "color": {"field": "g", "type": "nominal", "legend": null, "scale": {"domain": ["AM251", "THL", "JZL184"], "range": ["#6d6e71", "#a7a9ac", "#f26a26"]}}
 }},
{"data": {"values": [{}]}, "mark": {"type": "rule", "color": "black", "strokeWidth": 1.2}, "encoding": {"y": {"datum": 0}}},
{"data": {"values": [{}]}, "mark": {"type": "rule", "color": "#222", "strokeWidth": 1.2, "strokeDash": [12, 6]}, "encoding": {"y": {"datum": 11}}},
{"data": {"name": "bars"}, "mark": {"type": "rule", "color": "black", "strokeWidth": 2.5}, "encoding": {"x": {"field": "g", "type": "nominal"}, "y": {"field": "lo", "type": "quantitative"}, "y2": {"field": "hi"}}},
{"data": {"name": "bars"}, "mark": {"type": "tick", "color": "black", "thickness": 2.5, "size": 11, "opacity": 1}, "encoding": {"x": {"field": "g", "type": "nominal"}, "y": {"field": "lo", "type": "quantitative"}}},
{"data": {"name": "bars"}, "mark": {"type": "tick", "color": "black", "thickness": 2.5, "size": 11, "opacity": 1}, "encoding": {"x": {"field": "g", "type": "nominal"}, "y": {"field": "hi", "type": "quantitative"}}},
{"data": {"name": "dots"}, "mark": {"type": "circle", "color": "black", "size": 18, "opacity": 1, "xOffset": 19}, "encoding": {"x": {"field": "g", "type": "nominal"}, "y": {"field": "v", "type": "quantitative"}}},
{"data": {"values": [{}]}, "mark": {"type": "rule", "color": "black", "strokeWidth": 1.2, "xOffset": -7, "x2Offset": 7}, "encoding": {"x": {"datum": "AM251"}, "x2": {"datum": "JZL184"}, "y": {"datum": 150}}},
{"data": {"values": [{}]}, "mark": {"type": "rule", "color": "black", "strokeWidth": 1.2, "xOffset": -7}, "encoding": {"x": {"datum": "AM251"}, "y": {"datum": 150}, "y2": {"datum": 146}}},
{"data": {"values": [{}]}, "mark": {"type": "rule", "color": "black", "strokeWidth": 1.2, "xOffset": 7}, "encoding": {"x": {"datum": "JZL184"}, "y": {"datum": 150}, "y2": {"datum": 146}}},
{"data": {"values": [{}]}, "mark": {"type": "text", "text": "*", "fontSize": 22, "baseline": "alphabetic"}, "encoding": {"x": {"datum": "THL"}, "y": {"datum": 144}}},
{"data": {"values": [{}]}, "mark": {"type": "text", "text": "D", "fontSize": 30, "align": "left", "baseline": "alphabetic", "xOffset": -83}, "encoding": {"x": {"datum": "AM251"}, "y": {"datum": 197.4}}}
]
},
{
"width": 188, "height": 131,
"layer": [
{"data": {"values": [{}]}, "mark": {"type": "rule", "color": "#333", "strokeWidth": 1}, "encoding": {"x": {"datum": 0}, "y": {"datum": 0}, "y2": {"datum": 40}}},
{"data": {"name": "occ"}, "mark": {"type": "line", "strokeWidth": 2.5},
 "encoding": {
  "x": {"field": "t", "type": "quantitative", "scale": {"domain": [-20, 60], "range": [38, 224], "nice": false},
        "axis": {"values": [-20, 0, 20, 40, 60], "title": "Time (min)", "titleFontSize": 21, "titlePadding": 1, "titleX": 131, "labelFontSize": 16, "labelPadding": 12, "tickSize": -6, "tickWidth": 1.5, "domainWidth": 1.5, "labelFlush": false}},
  "y": {"field": "v", "type": "quantitative", "scale": {"domain": [0, 40], "nice": false},
        "axis": {"values": [0, 20, 40], "title": ["Bouton growth", "occurrence (%)"], "titleFontSize": 20.5, "titleLineHeight": 21, "titlePadding": 2, "labelFontSize": 16.5, "tickSize": 6, "tickWidth": 1.5, "domainWidth": 1.5, "labelPadding": 2, "offset": -46, "labelFlush": false}},
  "color": {"field": "g", "type": "nominal", "legend": null, "scale": {"domain": ["JZL184", "AM251", "THL"], "range": ["#f26a26", "#6d6e71", "#b3b3b3"]}}
 }},
{"data": {"name": "occ"}, "mark": {"type": "point", "filled": true, "opacity": 1},
 "encoding": {
  "x": {"field": "t", "type": "quantitative"},
  "y": {"field": "v", "type": "quantitative"},
  "color": {"field": "g", "type": "nominal", "legend": null},
  "shape": {"field": "g", "type": "nominal", "legend": null, "scale": {"domain": ["JZL184", "AM251", "THL"], "range": ["circle", "triangle-up", "triangle-up"]}},
  "size": {"field": "g", "type": "nominal", "legend": null, "scale": {"domain": ["JZL184", "AM251", "THL"], "range": [130, 70, 70]}}
 }},
{"data": {"values": [{}]}, "mark": {"type": "rule", "color": "#f26a26", "strokeWidth": 4}, "encoding": {"x": {"datum": 22}, "x2": {"datum": 39}, "y": {"datum": 39.5}}},
{"data": {"values": [{}]}, "mark": {"type": "rule", "color": "#f26a26", "strokeWidth": 4}, "encoding": {"x": {"datum": 49.7}, "x2": {"datum": 55.7}, "y": {"datum": 39.5}}},
{"data": {"values": [{}]}, "mark": {"type": "text", "text": "*", "fontSize": 20, "baseline": "alphabetic"}, "encoding": {"x": {"datum": 30.5}, "y": {"datum": 39}}},
{"data": {"values": [{}]}, "mark": {"type": "text", "text": "*", "fontSize": 20, "baseline": "alphabetic"}, "encoding": {"x": {"datum": 52.5}, "y": {"datum": 39}}},
{"data": {"values": [{}]}, "mark": {"type": "text", "text": "JZL184", "fontSize": 21, "align": "left", "baseline": "middle", "color": "#f26a26"}, "encoding": {"x": {"datum": 57.4}, "y": {"datum": 34.5}}},
{"data": {"values": [{}]}, "mark": {"type": "text", "text": "THL", "fontSize": 21, "align": "left", "baseline": "middle", "color": "#b3b3b3"}, "encoding": {"x": {"datum": 58.6}, "y": {"datum": 16.6}}},
{"data": {"values": [{}]}, "mark": {"type": "text", "text": "AM251", "fontSize": 21, "align": "left", "baseline": "middle", "color": "#6d6e71"}, "encoding": {"x": {"datum": 58.6}, "y": {"datum": 5.1}}},
{"data": {"values": [{}]}, "mark": {"type": "text", "text": "E", "fontSize": 30, "align": "left", "baseline": "alphabetic"}, "encoding": {"x": {"datum": -46.7}, "y": {"datum": 43.9}}}
]
}
]
}
